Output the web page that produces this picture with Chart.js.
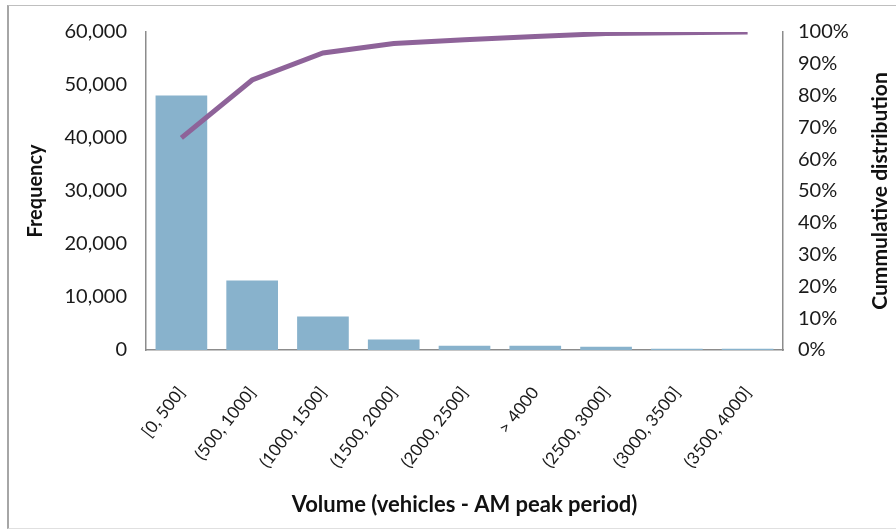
<!DOCTYPE html>
<html>
<head>
<meta charset="utf-8">
<script src="https://cdn.jsdelivr.net/npm/chart.js@4/dist/chart.umd.min.js"></script>
<style>
    html, body { margin: 0; padding: 0; background: #fff; }
    .frame {
        position: absolute;
        left: 7px; top: 5px;
        width: 900px; height: 522px;
        border-left: 2px solid #a6a6a6;
        border-top: 1px solid #bfbfbf;
        border-bottom: 1px solid #e0e0e0;
    }
    .chart-wrap { position: absolute; left: 0; top: 0; width: 896px; height: 529px; }
</style>
</head>
<body>
<div class="frame"></div>
<div class="chart-wrap"><canvas id="paretoChart" width="896" height="529"></canvas></div>
<script>
// Data
const categories = ['[0, 500]', '(500, 1000]', '(1000, 1500]', '(1500, 2000]', '(2000, 2500]', '> 4000', '(2500, 3000]', '(3000, 3500]', '(3500, 4000]'];
const frequency = [48000, 13100, 6300, 2000, 800, 800, 600, 250, 250];
const cumulative = [66.7, 84.9, 93.4, 96.4, 97.6, 98.6, 99.5, 99.8, 100];
const freqTicks = [0, 10000, 20000, 30000, 40000, 50000, 60000];
const pctTicks = [0, 10, 20, 30, 40, 50, 60, 70, 80, 90, 100];

const FONT = 'Lato, "Open Sans", sans-serif';
const axisColor = '#8c8c8c';
const rightTitle = 'Cummulative distribution';

// Excel writes the right axis title bottom-to-top, Chart.js does the opposite,
// so draw it ourselves
const rightTitlePlugin = {
    id: 'rightTitle',
    afterDraw: function(chart) {
        const c = chart.ctx;
        const area = chart.chartArea;
        c.save();
        c.translate(880, (area.top + area.bottom) / 2);
        c.rotate(-Math.PI / 2);
        c.textAlign = 'center';
        c.textBaseline = 'middle';
        c.fillStyle = '#111';
        c.font = 'bold 21px ' + FONT;
        c.fillText(rightTitle, 0, 0);
        c.restore();
    }
};

document.addEventListener('DOMContentLoaded', function() {
    const ctx = document.getElementById('paretoChart');

    new Chart(ctx, {
        data: {
            labels: categories,
            datasets: [{
                type: 'line',
                label: 'Cumulative distribution',
                data: cumulative,
                yAxisID: 'y1',
                borderColor: '#8e6399',
                borderWidth: 5,
                pointRadius: 0,
                tension: 0,
                order: 0
            }, {
                type: 'bar',
                label: 'Frequency',
                data: frequency,
                yAxisID: 'y',
                backgroundColor: '#88b2cc',
                barPercentage: 0.73,
                categoryPercentage: 1.0,
                order: 1
            }]
        },
        plugins: [rightTitlePlugin],
        options: {
            responsive: false,
            animation: false,
            layout: { padding: { top: 32, left: 0, right: 0, bottom: 0 } },
            plugins: {
                legend: { display: false },
                tooltip: { enabled: false }
            },
            scales: {
                x: {
                    grid: { display: false },
                    border: { display: true, color: axisColor, width: 1.5 },
                    ticks: {
                        autoSkip: false,
                        minRotation: 52,
                        maxRotation: 52,
                        padding: 25,
                        color: '#1a1a1a',
                        font: { family: FONT, size: 17 }
                    },
                    title: {
                        display: true,
                        text: 'Volume (vehicles - AM peak period)',
                        color: '#111',
                        font: { family: FONT, size: 22, weight: 'bold' },
                        padding: { top: 0, bottom: 11 }
                    },
                    afterFit: function(scale) { scale.height = 179; }
                },
                y: {
                    position: 'left',
                    min: 0,
                    max: 60000,
                    grid: { display: false },
                    border: { display: true, color: axisColor, width: 1.5 },
                    afterBuildTicks: function(scale) {
                        scale.ticks = freqTicks.map(v => ({ value: v }));
                    },
                    ticks: {
                        padding: 11,
                        color: '#1a1a1a',
                        font: { family: FONT, size: 20 },
                        callback: v => v.toLocaleString('en-US')
                    },
                    title: {
                        display: true,
                        text: 'Frequency',
                        color: '#111',
                        font: { family: FONT, size: 20, weight: 'bold' },
                        padding: { top: 24, bottom: 0 }
                    },
                    afterFit: function(scale) { scale.width = 146; }
                },
                y1: {
                    position: 'right',
                    min: 0,
                    max: 100,
                    grid: { display: false },
                    border: { display: true, color: axisColor, width: 1.5 },
                    afterBuildTicks: function(scale) {
                        scale.ticks = pctTicks.map(v => ({ value: v }));
                    },
                    ticks: {
                        padding: 7,
                        color: '#1a1a1a',
                        font: { family: FONT, size: 20 },
                        callback: v => v + '%'
                    },
                    title: { display: false },
                    afterFit: function(scale) { scale.width = 113; }
                }
            }
        }
    });
});
</script>
</body>
</html>
